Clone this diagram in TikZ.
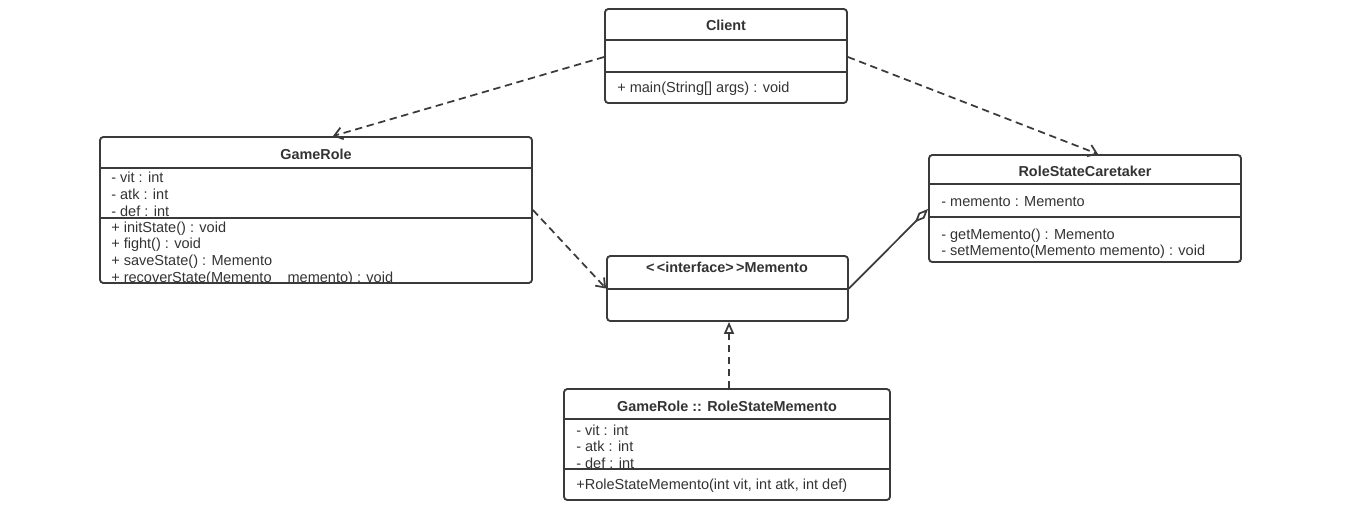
\documentclass[tikz,border=0pt]{standalone}
\usepackage{fontspec}
\setmainfont{Liberation Sans}
\usetikzlibrary{arrows.meta,fit}

\definecolor{umlline}{HTML}{3A3A3A}
\definecolor{umltext}{HTML}{333333}

\tikzset{
  classbox/.style={draw=umlline, line width=1.4pt, rounded corners=2.5pt, inner sep=0pt},
  classline/.style={draw=umlline, line width=1.4pt},
  classtitle/.style={font=\fontsize{10.8}{12}\selectfont\bfseries, text=umltext, inner sep=0pt},
  classmember/.style={font=\fontsize{10.9}{12}\selectfont, text=umltext, anchor=west,
    inner sep=0pt, text height=8.5pt, text depth=2.5pt},
  dep/.style={draw=umlline, line width=1.3pt, dash pattern=on 5.5pt off 3.5pt,
    -{Straight Barb[length=6pt,width=9pt]}},
  realize/.style={draw=umlline, line width=1.3pt, dash pattern=on 5.5pt off 3.5pt,
    -{Triangle[open,length=9pt,width=7.5pt]}},
  aggr/.style={draw=umlline, line width=1.3pt, {Diamond[open,length=14pt,width=6pt]}-}
}

\begin{document}
\begin{tikzpicture}[x=0.75pt,y=-0.75pt]
  \useasboundingbox (0,0) rectangle (1362,519);

  % Client
  \node[classbox, fit={(605,9) (847,103)}] (client) {};
  \draw[classline] (client.west |- 0,40) -- (client.east |- 0,40);
  \draw[classline] (client.west |- 0,72) -- (client.east |- 0,72);
  \node[classtitle] (client-name) at (726,25) {Client};
  \node[classmember] (client-m1) at (617,88) {+ main(String[] args) : void};

  % GameRole
  \node[classbox, fit={(100,137) (532,283)}] (gamerole) {};
  \begin{scope}
    \clip (gamerole.south west) rectangle (gamerole.north east);
    \node[classmember] (gamerole-a1) at (111,178) {- vit : int};
    \node[classmember] (gamerole-a2) at (111,195) {- atk : int};
    \node[classmember] (gamerole-a3) at (111,212) {- def : int};
    \node[classmember] (gamerole-m1) at (111,228) {+ initState() : void};
    \node[classmember] (gamerole-m2) at (111,244) {+ fight() : void};
    \node[classmember] (gamerole-m3) at (111,261) {+ saveState() : Memento};
    \node[classmember] (gamerole-m4) at (111,278) {+ recoverState(Memento\hspace{1.1em}memento) : void};
  \end{scope}
  \draw[classline] (gamerole.west |- 0,168) -- (gamerole.east |- 0,168);
  \draw[classline] (gamerole.west |- 0,218) -- (gamerole.east |- 0,218);
  \node[classtitle] (gamerole-name) at (316,154) {GameRole};

  % RoleStateCaretaker
  \node[classbox, fit={(929,155) (1241,262)}] (caretaker) {};
  \draw[classline] (caretaker.west |- 0,184) -- (caretaker.east |- 0,184);
  \draw[classline] (caretaker.west |- 0,217) -- (caretaker.east |- 0,217);
  \node[classtitle] (caretaker-name) at (1085,171) {RoleStateCaretaker};
  \node[classmember] (caretaker-a1) at (941,202) {- memento : Memento};
  \node[classmember] (caretaker-m1) at (941,235) {- getMemento() : Memento};
  \node[classmember] (caretaker-m2) at (941,251) {- setMemento(Memento memento) : void};

  % Memento
  \node[classbox, fit={(607,256) (848,321)}] (memento) {};
  \draw[classline] (memento.west |- 0,289) -- (memento.east |- 0,289);
  \node[classtitle] (memento-name) at (727,267) {<\,<interface>\,>Memento};

  % GameRole :: RoleStateMemento
  \node[classbox, fit={(564,389) (890,500)}] (rsm) {};
  \begin{scope}
    \clip (rsm.south west) rectangle (rsm.north east);
    \node[classmember] (rsm-a1) at (576,431) {- vit : int};
    \node[classmember] (rsm-a2) at (576,447) {- atk : int};
    \node[classmember] (rsm-a3) at (576,464) {- def : int};
    \node[classmember] (rsm-m1) at (576,485) {+RoleStateMemento(int vit, int atk, int def)};
  \end{scope}
  \draw[classline] (rsm.west |- 0,419) -- (rsm.east |- 0,419);
  \draw[classline] (rsm.west |- 0,469) -- (rsm.east |- 0,469);
  \node[classtitle] (rsm-name) at (727,406) {GameRole :: RoleStateMemento};

  % relations
  \draw[dep] (client.west |- 0,57) -- (gamerole.north -| 333,0);
  \draw[dep] (client.east |- 0,57) -- (caretaker.north -| 1098,0);
  \draw[dep] (gamerole.east |- 0,210) -- (memento.west);
  \draw[aggr] (caretaker.west |- 0,209) -- (memento.east);
  \draw[realize] (rsm.north -| 729,0) -- (memento.south -| 729,0);
\end{tikzpicture}
\end{document}
